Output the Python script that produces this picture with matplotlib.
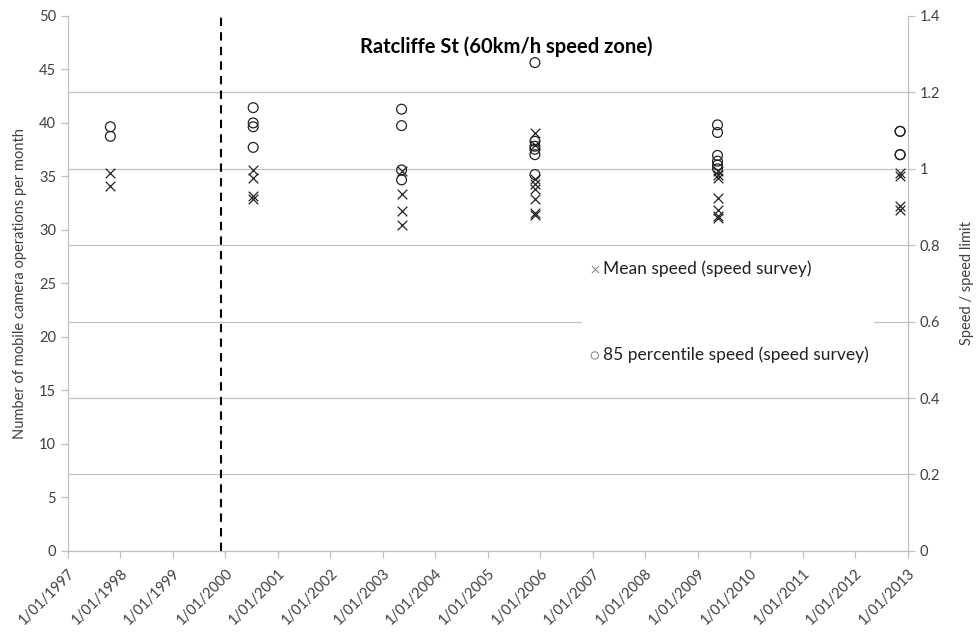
import matplotlib
matplotlib.use('Agg')
import matplotlib.pyplot as plt
import numpy as np
import pandas as pd

plt.rcParams['font.family'] = ['Lato', 'DejaVu Sans']

# speed survey results (speed / speed limit)
mean_dates = ['1997-10-23'] * 2 + ['2000-07-13'] * 4 + ['2003-05-12'] * 4 + \
    ['2005-11-25'] * 8 + ['2009-05-19'] * 7 + ['2012-11-10'] * 4
mean_ratio = [0.990, 0.955,
              0.998, 0.977, 0.930, 0.922,
              0.993, 0.934, 0.890, 0.853,
              1.094, 1.062, 0.972, 0.959, 0.946, 0.920, 0.885, 0.880,
              0.995, 0.985, 0.975, 0.924, 0.893, 0.876, 0.872,
              0.990, 0.981, 0.902, 0.893]

p85_dates = ['1997-10-23'] * 2 + ['2000-07-13'] * 4 + ['2003-05-12'] * 4 + \
    ['2005-11-25'] * 6 + ['2009-05-19'] * 6 + ['2012-11-10'] * 4
p85_ratio = [1.110, 1.085,
             1.160, 1.120, 1.110, 1.056,
             1.156, 1.113, 0.997, 0.971,
             1.278, 1.072, 1.059, 1.051, 1.037, 0.985,
             1.115, 1.095, 1.035, 1.020, 1.010, 1.000,
             1.098, 1.098, 1.037, 1.037]

camera_start = '1999-12-01'
years = list(range(1997, 2014))
tick_labels = ['1/01/%d' % y for y in years]

grey = '#404040'

fig = plt.figure(figsize=(9.78, 6.39), dpi=100)
ax = fig.add_axes([0.0695, 0.138, 0.8585, 0.837])
ax2 = ax.twinx()

# left axis (camera operations) - no data series shown
ax.set_ylim(0, 50)
ax.set_yticks(np.arange(0, 51, 5))
ax.set_ylabel('Number of mobile camera operations per month', fontsize=10.5, color=grey)
ax.yaxis.set_label_coords(-0.049, 0.5)

# right axis
ax2.set_ylim(0, 1.4)
ax2.set_yticks(np.arange(0, 1.41, 0.2))
ax2.set_yticklabels(['%g' % round(v, 1) for v in np.arange(0, 1.41, 0.2)])
ax2.set_ylabel('Speed / speed limit', fontsize=10.5, color=grey)
ax2.yaxis.set_label_coords(1.063, 0.5)
ax2.grid(axis='y', color='#c4c4c4', lw=0.9)
ax2.set_axisbelow(True)
ax2.get_ygridlines()[-1].set_visible(False)

ax2.scatter(pd.to_datetime(mean_dates), mean_ratio, marker='x', s=48,
            color='#222222', linewidths=0.9, label='Mean speed (speed survey)', zorder=3)
ax2.scatter(pd.to_datetime(p85_dates), p85_ratio, marker='o', s=50,
            facecolors='none', edgecolors='#222222', linewidths=0.9,
            label='85 percentile speed (speed survey)', zorder=3)
ax2.axvline(pd.Timestamp(camera_start), color='black', ls=(0, (4, 3)), lw=1.5, zorder=2)

ax.set_xlim(pd.Timestamp('1997-01-01'), pd.Timestamp('2013-01-01'))
ticks = [pd.Timestamp('%d-01-01' % y) for y in years]
ax.set_xticks(ticks)
ax.set_xticklabels(tick_labels, rotation=45, ha='right', va='top', rotation_mode='anchor')

for a in (ax, ax2):
    for s in a.spines.values():
        s.set_color('#bfbfbf')
    a.spines['top'].set_visible(False)
    a.tick_params(colors=grey, labelsize=10.5, length=5, width=0.9)
    a.tick_params(axis='both', color='#bfbfbf')
ax.tick_params(axis='x', pad=6)

ax2.set_title('Ratcliffe St (60km/h speed zone)', fontsize=14.5, fontweight='bold',
              y=0.915, x=0.522)

leg = ax2.legend(loc='center left', bbox_to_anchor=(0.612, 0.447), fontsize=12.5,
                 frameon=True, fancybox=False, framealpha=1, edgecolor='none',
                 labelspacing=4.0, handletextpad=0.05, handlelength=0.8,
                 markerscale=0.75, borderpad=0.35, borderaxespad=0)
for h in leg.legend_handles:
    h.set_edgecolor('#808080')
    h.set_linewidth(0.7)
leg.set_zorder(5)
for t in leg.get_texts():
    t.set_color('#222222')

fig.savefig('out.png', dpi=100)
